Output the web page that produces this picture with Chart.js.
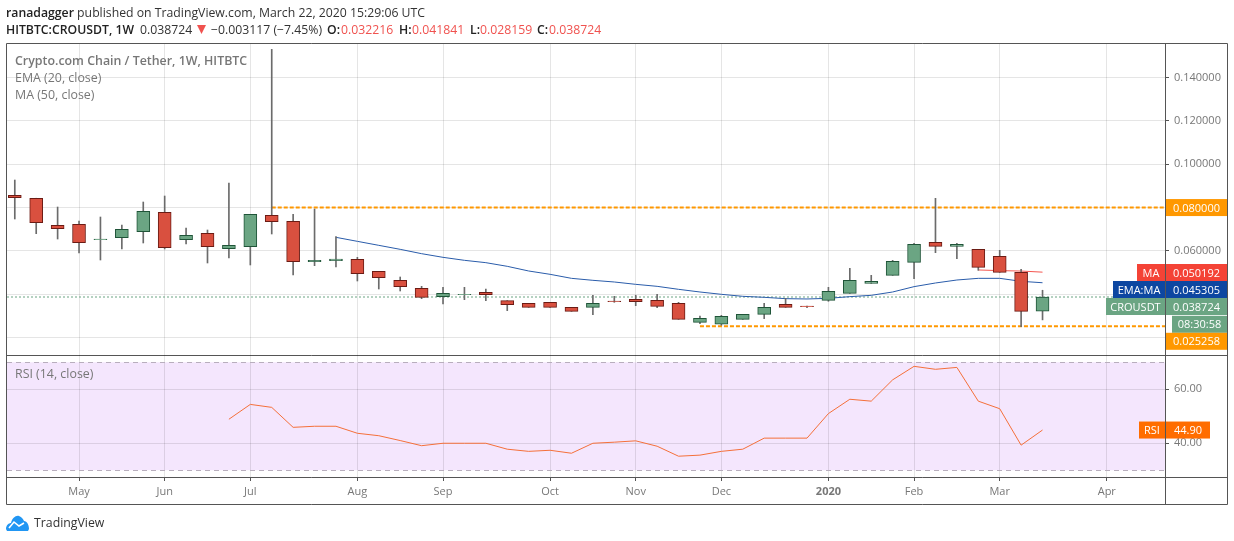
<!DOCTYPE html>
<html lang="en">
<head>
<meta charset="UTF-8">
<title>CROUSDT</title>
<script src="https://cdn.jsdelivr.net/npm/chart.js@4"></script>
<style>
  html, body { margin: 0; padding: 0; background: #fff; }
  body { width: 1234px; height: 541px; position: relative; overflow: hidden; font-family: "Open Sans", sans-serif; }
  canvas { position: absolute; left: 0; }
  #mainChart { top: 0; }
  #rsiChart { top: 355px; }
  .txt { position: absolute; white-space: nowrap; font-size: 12.4px; line-height: 16px; color: #333; }
  .head { font-size: 12.25px; }
  .head b { font-weight: 600; color: #222; }
  .red { color: #f0524f; }
  .pane { color: #777; }
  .pane.title { font-weight: 600; }
</style>
</head>
<body>
<canvas id="mainChart" width="1234" height="356"></canvas>
<canvas id="rsiChart" width="1234" height="186"></canvas>

<div class="txt head" style="left:6px;top:5px"><b>ranadagger</b> published on TradingView.com, March 22, 2020 15:29:06 UTC</div>
<div class="txt head" style="left:6px;top:22px"><b>HITBTC:CROUSDT, 1W</b></div>
<div class="txt head" style="left:140px;top:22px">0.038724</div>
<svg style="position:absolute;left:197px;top:25px" width="9" height="10"><path d="M0 0 H9 L4.5 9 Z" fill="#f0524f"/></svg>
<div class="txt head" style="left:211px;top:22px">−0.003117 (−7.45%)</div>
<div class="txt head" style="left:327px;top:22px"><b>O:</b></div>
<div class="txt head red" style="left:341px;top:22px">0.032216</div>
<div class="txt head" style="left:399px;top:22px"><b>H:</b></div>
<div class="txt head red" style="left:412px;top:22px">0.041841</div>
<div class="txt head" style="left:470px;top:22px"><b>L:</b></div>
<div class="txt head red" style="left:480px;top:22px">0.028159</div>
<div class="txt head" style="left:537px;top:22px"><b>C:</b></div>
<div class="txt head red" style="left:549px;top:22px">0.038724</div>
<div class="txt pane title" style="left:15px;top:53px">Crypto.com Chain / Tether, 1W, HITBTC</div>
<div class="txt pane" style="left:15px;top:70px">EMA (20, close)</div>
<div class="txt pane" style="left:15px;top:87px">MA (50, close)</div>
<div class="txt pane" style="left:15px;top:366px">RSI (14, close)</div>

<svg style="position:absolute;left:6px;top:515px" width="23" height="16" viewBox="0 0 23 16">
  <path d="M0 14 C0 10 3 8 5 8 C6 3 10 0 13 1 C16 2 17 4 18 6 C21 6 23 10 23 14 L22 16 L1 16 Z" fill="#2196f3"/>
  <path d="M3 13 L8 7 L13 11 L18 8" fill="none" stroke="#fff" stroke-width="1.6"/>
</svg>
<div class="txt" style="left:34px;top:515px;font-size:12.3px;color:#333">TradingView</div>

<script>
  // weekly candles, one entry per bar
  const opens  = [0.08564,0.08426,0.07180,0.07226,0.06520,0.06611,0.06887,0.07780,0.06518,0.06811,0.06103,0.06195,0.07641,0.07364,0.05503,0.05550,0.05611,0.05057,0.04642,0.04273,0.03889,0.03980,0.04088,0.03704,0.03581,0.03627,0.03396,0.03396,0.03690,0.03766,0.03720,0.03581,0.02704,0.02613,0.02843,0.03074,0.03535,0.03450,0.03720,0.04042,0.04504,0.04873,0.05473,0.06395,0.06211,0.06072,0.05750,0.05011,0.032216];
  const highs  = [0.09271,0.08430,0.08025,0.07380,0.07564,0.07195,0.08256,0.08533,0.07057,0.06964,0.09133,0.07687,0.15300,0.07687,0.07933,0.06657,0.05703,0.05057,0.04796,0.04365,0.04319,0.04319,0.04242,0.03704,0.03581,0.03627,0.03396,0.03951,0.03904,0.03951,0.03996,0.03627,0.02997,0.03028,0.03074,0.03581,0.03811,0.03450,0.04319,0.05196,0.04873,0.05565,0.06349,0.08426,0.06349,0.06072,0.06026,0.05150,0.041841];
  const lows   = [0.07472,0.06795,0.06549,0.05903,0.05580,0.06088,0.06365,0.06088,0.06318,0.05442,0.05672,0.05350,0.06780,0.04888,0.05319,0.05257,0.04611,0.04242,0.04150,0.03796,0.03551,0.03750,0.03704,0.03243,0.03396,0.03396,0.03211,0.03058,0.03627,0.03473,0.03381,0.02843,0.02642,0.02566,0.02843,0.02874,0.03396,0.03380,0.03674,0.04042,0.04504,0.04873,0.04719,0.05918,0.05642,0.05103,0.05011,0.02500,0.028159];
  const closes = [0.08456,0.07303,0.07026,0.06380,0.06549,0.06995,0.07826,0.06150,0.06718,0.06195,0.06257,0.07687,0.07349,0.05503,0.05565,0.05627,0.04950,0.04765,0.04350,0.03858,0.04042,0.04000,0.03980,0.03519,0.03396,0.03396,0.03211,0.03581,0.03660,0.03658,0.03442,0.02843,0.02889,0.02982,0.03074,0.03396,0.03396,0.03430,0.04135,0.04642,0.04596,0.05519,0.06303,0.06211,0.06303,0.05242,0.05011,0.03211,0.038724];

  // ema starts at bar 15, ma at bar 45, rsi at bar 10
  const emaStart = 15;
  const emaValues = [0.06626,0.06441,0.06257,0.06072,0.05872,0.05703,0.05565,0.05457,0.05288,0.05073,0.04919,0.04734,0.04642,0.04565,0.04457,0.04365,0.04227,0.04104,0.03996,0.03904,0.03858,0.03796,0.03781,0.03811,0.03889,0.03950,0.04104,0.04350,0.04519,0.04657,0.04734,0.04734,0.04596,0.045305];
  const maStart = 45;
  const maValues = [0.0512,0.0509,0.0507,0.050192];
  const rsiStart = 10;
  const rsiValues = [48.9,54.4,53.3,45.9,46.3,46.3,43.7,42.8,41.0,39.1,40.0,40.0,40.0,37.8,37.0,37.4,36.3,40.0,40.4,40.9,38.9,35.2,35.6,37.0,37.8,41.9,41.9,41.9,51.0,56.3,55.6,63.5,68.5,67.4,68.1,55.6,52.8,39.3,44.9];

  const lastPrice = 0.038724;
  const resistance = 0.08, resistanceFrom = 12;
  const support = 0.025258, supportFrom = 32;

  const monthBars = [3,7,11,16,20,25,29,33,38,42,46,51];
  const monthLabels = ['May','Jun','Jul','Aug','Sep','Oct','Nov','Dec','2020','Feb','Mar','Apr'];
  const priceTicks = [0.14,0.12,0.10,0.08,0.06,0.04,0.02];
  const priceTicksShown = [0.14,0.12,0.10,0.06];
  const rsiTicks = [60,40];

  const xMin = -0.364, xMax = 53.72;
  const GREEN = '#6ba583', GREEN_EDGE = '#1f5438', RED = '#d9503f', RED_EDGE = '#6b1b14';
  const GRID = 'rgba(0,0,0,0.1)', FRAME = '#555', TICK = '#777';
  const axisFont = { family: 'Open Sans', size: 11 };

  Chart.defaults.animation = false;
  Chart.defaults.responsive = false;
  Chart.defaults.plugins.legend.display = false;
  Chart.defaults.plugins.tooltip.enabled = false;

  const monthTicks = (scale) => { scale.ticks = monthBars.map(v => ({ value: v })); };
  // fixed width y axis, no extra room for half labels
  const fitY = (scale) => { scale.width = 62; scale.paddingTop = 0; scale.paddingBottom = 0; };

  function line(ctx, x0, y0, x1, y1) {
    ctx.beginPath(); ctx.moveTo(x0, y0); ctx.lineTo(x1, y1); ctx.stroke();
  }

  function tag(ctx, x0, x1, cy, color, text) {
    ctx.fillStyle = color;
    ctx.fillRect(x0, cy - 8.5, x1 - x0, 17);
    ctx.fillStyle = '#fff';
    ctx.font = '11px "Open Sans"';
    ctx.textAlign = 'center';
    ctx.textBaseline = 'middle';
    ctx.fillText(text, (x0 + x1) / 2, cy + 1);
  }

  const mainOverlay = {
    id: 'mainOverlay',
    afterDraw(chart) {
      const ctx = chart.ctx;
      ctx.save();
      ctx.strokeStyle = FRAME;
      line(ctx, 6.5, 43.5, 1227.5, 43.5);
      line(ctx, 6.5, 43.5, 6.5, 356);
      line(ctx, 1165.5, 43.5, 1165.5, 356);
      line(ctx, 1227.5, 43.5, 1227.5, 356);
      line(ctx, 6.5, 355.5, 1227.5, 355.5);

      const ORANGE = '#ff9800';
      tag(ctx, 1166, 1227, chart.scales.y.getPixelForValue(resistance), ORANGE, resistance.toFixed(6));
      // the stacked tags sit where the original pushes them apart
      tag(ctx, 1137, 1165, 272.5, '#f44336', 'MA');
      tag(ctx, 1166, 1227, 272.5, '#f44336', maValues[maValues.length - 1].toFixed(6));
      tag(ctx, 1113, 1165, 289.5, '#0d47a1', 'EMA:MA');
      tag(ctx, 1166, 1227, 289.5, '#0d47a1', emaValues[emaValues.length - 1].toFixed(6));
      tag(ctx, 1106, 1165, 306.5, GREEN, 'CROUSDT');
      tag(ctx, 1166, 1227, 306.5, GREEN, lastPrice.toFixed(6));
      tag(ctx, 1172, 1227, 324.3, GREEN, '08:30:58');
      tag(ctx, 1166, 1227, 341.3, ORANGE, support.toFixed(6));
      ctx.restore();
    }
  };

  const rsiOverlay = {
    id: 'rsiOverlay',
    beforeDraw(chart) {
      const { ctx, chartArea: a, scales: { y } } = chart;
      const top = y.getPixelForValue(70), bottom = y.getPixelForValue(30);
      ctx.save();
      ctx.fillStyle = '#f4e6fd';
      ctx.fillRect(a.left, top, a.right - a.left, bottom - top);
      ctx.restore();
    },
    afterDraw(chart) {
      const { ctx, chartArea: a, scales: { y } } = chart;
      ctx.save();
      ctx.strokeStyle = '#b8aebd';
      ctx.setLineDash([5, 4]);
      line(ctx, a.left, Math.round(y.getPixelForValue(70)) + 0.5, a.right, Math.round(y.getPixelForValue(70)) + 0.5);
      line(ctx, a.left, Math.round(y.getPixelForValue(30)) + 0.5, a.right, Math.round(y.getPixelForValue(30)) + 0.5);
      ctx.setLineDash([]);
      ctx.strokeStyle = FRAME;
      line(ctx, 6.5, 0, 6.5, 149.5);
      line(ctx, 1165.5, 0, 1165.5, 149.5);
      line(ctx, 1227.5, 0, 1227.5, 149.5);
      line(ctx, 6.5, 122.5, 1227.5, 122.5);
      line(ctx, 6.5, 149.5, 1227.5, 149.5);
      const last = rsiValues[rsiValues.length - 1];
      const cy = y.getPixelForValue(last);
      tag(ctx, 1139, 1165, cy, '#ff6d00', 'RSI');
      tag(ctx, 1166, 1210, cy, '#ff6d00', last.toFixed(2));
      ctx.restore();
    }
  };

  const bars = closes.map((c, i) => i);
  const series = (start, values) => values.map((v, i) => ({ x: start + i, y: v }));
  const isUp = (i) => closes[i] >= opens[i];

  new Chart(document.getElementById('mainChart'), {
    type: 'bar',
    plugins: [mainOverlay],
    data: {
      datasets: [
        {
          data: bars.map(i => ({ x: i, y: [opens[i], closes[i]] })),
          order: 1, grouped: false, barThickness: 13, borderWidth: 1, borderSkipped: false,
          backgroundColor: bars.map(i => isUp(i) ? GREEN : RED),
          borderColor: bars.map(i => isUp(i) ? GREEN_EDGE : RED_EDGE)
        },
        {
          data: bars.map(i => ({ x: i, y: [lows[i], highs[i]] })),
          order: 2, grouped: false, barThickness: 1, borderWidth: 0, backgroundColor: '#6b6b6b'
        },
        { type: 'line', data: series(emaStart, emaValues), order: 3, borderColor: '#2a5caa', borderWidth: 1, pointRadius: 0 },
        { type: 'line', data: series(maStart, maValues), order: 3, borderColor: '#f4554f', borderWidth: 1, pointRadius: 0 },
        { type: 'line', data: [{ x: xMin, y: lastPrice }, { x: xMax, y: lastPrice }], order: 4, borderColor: GREEN, borderWidth: 1, borderDash: [2, 2], pointRadius: 0 },
        { type: 'line', data: [{ x: resistanceFrom, y: resistance }, { x: xMax, y: resistance }], order: 4, borderColor: '#ff9800', borderWidth: 2, borderDash: [4, 2], pointRadius: 0 },
        { type: 'line', data: [{ x: supportFrom, y: support }, { x: xMax, y: support }], order: 4, borderColor: '#ff9800', borderWidth: 2, borderDash: [4, 2], pointRadius: 0 }
      ]
    },
    options: {
      layout: { padding: { left: 7, top: 43, right: 7, bottom: 1 } },
      scales: {
        x: {
          type: 'linear', offset: false, min: xMin, max: xMax,
          afterBuildTicks: monthTicks,
          afterFit: (scale) => { scale.height = 0; },
          grid: { offset: false, color: GRID, drawTicks: false },
          border: { display: false },
          ticks: { display: false }
        },
        y: {
          position: 'right', min: 0.01196, max: 0.15594,
          afterBuildTicks: (scale) => { scale.ticks = priceTicks.map(v => ({ value: v })); },
          afterFit: fitY,
          grid: { color: GRID, tickLength: 4, tickColor: FRAME },
          border: { display: false },
          ticks: {
            color: TICK, font: axisFont, padding: 5, autoSkip: false,
            callback: (v) => priceTicksShown.includes(v) ? v.toFixed(6) : ''
          }
        }
      }
    }
  });

  new Chart(document.getElementById('rsiChart'), {
    type: 'line',
    plugins: [rsiOverlay],
    data: {
      datasets: [
        { data: series(rsiStart, rsiValues), borderColor: '#f4703a', borderWidth: 1, pointRadius: 0 }
      ]
    },
    options: {
      layout: { padding: { left: 7, top: 0, right: 7, bottom: 37 } },
      scales: {
        x: {
          type: 'linear', min: xMin, max: xMax,
          afterBuildTicks: monthTicks,
          afterFit: (scale) => { scale.height = 27; },
          grid: { color: GRID, tickLength: 4, tickColor: FRAME },
          border: { display: false },
          ticks: {
            color: TICK, padding: 4, maxRotation: 0, autoSkip: false,
            font: (c) => c.tick && monthLabels[monthBars.indexOf(c.tick.value)] === '2020' ? { ...axisFont, weight: 'bold' } : axisFont,
            callback: (v) => monthLabels[monthBars.indexOf(v)]
          }
        },
        y: {
          position: 'right', min: 27.5, max: 72.7,
          afterBuildTicks: (scale) => { scale.ticks = rsiTicks.map(v => ({ value: v })); },
          afterFit: fitY,
          grid: { color: GRID, tickLength: 4, tickColor: FRAME },
          border: { display: false },
          ticks: { color: TICK, font: axisFont, padding: 5, callback: (v) => v.toFixed(2) }
        }
      }
    }
  });
</script>
</body>
</html>
